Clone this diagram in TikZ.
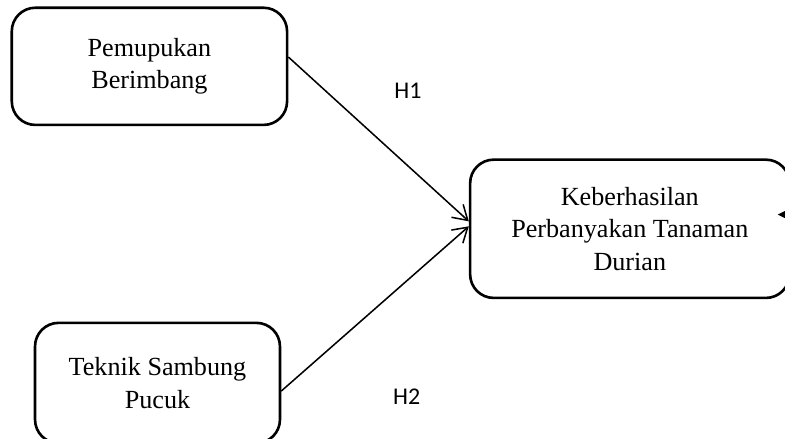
\documentclass[tikz,border=0pt]{standalone}
\usepackage{fontspec}
\setmainfont{Liberation Serif}
\newfontfamily\labelfont{Carlito}
\usepackage{tikz}
\usetikzlibrary{shapes.geometric, arrows.meta, calc, positioning}
\tikzstyle{varbox} = [rectangle, rounded corners=0.38cm, line width=1.2pt, text centered, align=center, draw=black, font=\fontsize{12}{15}\selectfont]
\tikzstyle{arrow} = [line width=0.7pt,-{Straight Barb[length=6.5pt,width=8pt]}]
\tikzstyle{hyp} = [font=\labelfont\fontsize{11}{13}\selectfont]

\begin{document}
\begin{tikzpicture}
		\useasboundingbox (0,0) rectangle (12.66,7.08);
		\node (Pupuk) [varbox, minimum width=4.44cm, minimum height=1.89cm] at (2.41,6.01) {Pemupukan\\Berimbang};
		\node (Sambung) [varbox, minimum width=3.95cm, minimum height=1.94cm, below=3.15cm of Pupuk, xshift=0.13cm] {Teknik Sambung\\Pucuk};
		\node (Hasil) [varbox, minimum width=5.15cm, minimum height=2.23cm, right=2.91cm of Pupuk, yshift=-2.62cm] {Keberhasilan\\Perbanyakan Tanaman\\Durian};
		\node (H1) [hyp] at (6.58,5.61) {H1};
		\node (H2) [hyp] at (6.56,0.68) {H2};
		\coordinate (FbTail) at ([xshift=0.5cm, yshift=0.23cm]Hasil.east);
		\coordinate (FbTip) at ([xshift=-0.21cm, yshift=0.23cm]Hasil.east);
		\draw [arrow] ([yshift=0.15cm]Pupuk.east) -- ([yshift=0.12cm]Hasil.west);
		\draw [arrow] ([yshift=-0.13cm]Sambung.east) -- ([yshift=0.04cm]Hasil.west);
		\draw [line width=0.8pt,-{Stealth[length=4.5pt,width=4.5pt]}] (FbTail) -- (FbTip);
		\end{tikzpicture}
\end{document}
